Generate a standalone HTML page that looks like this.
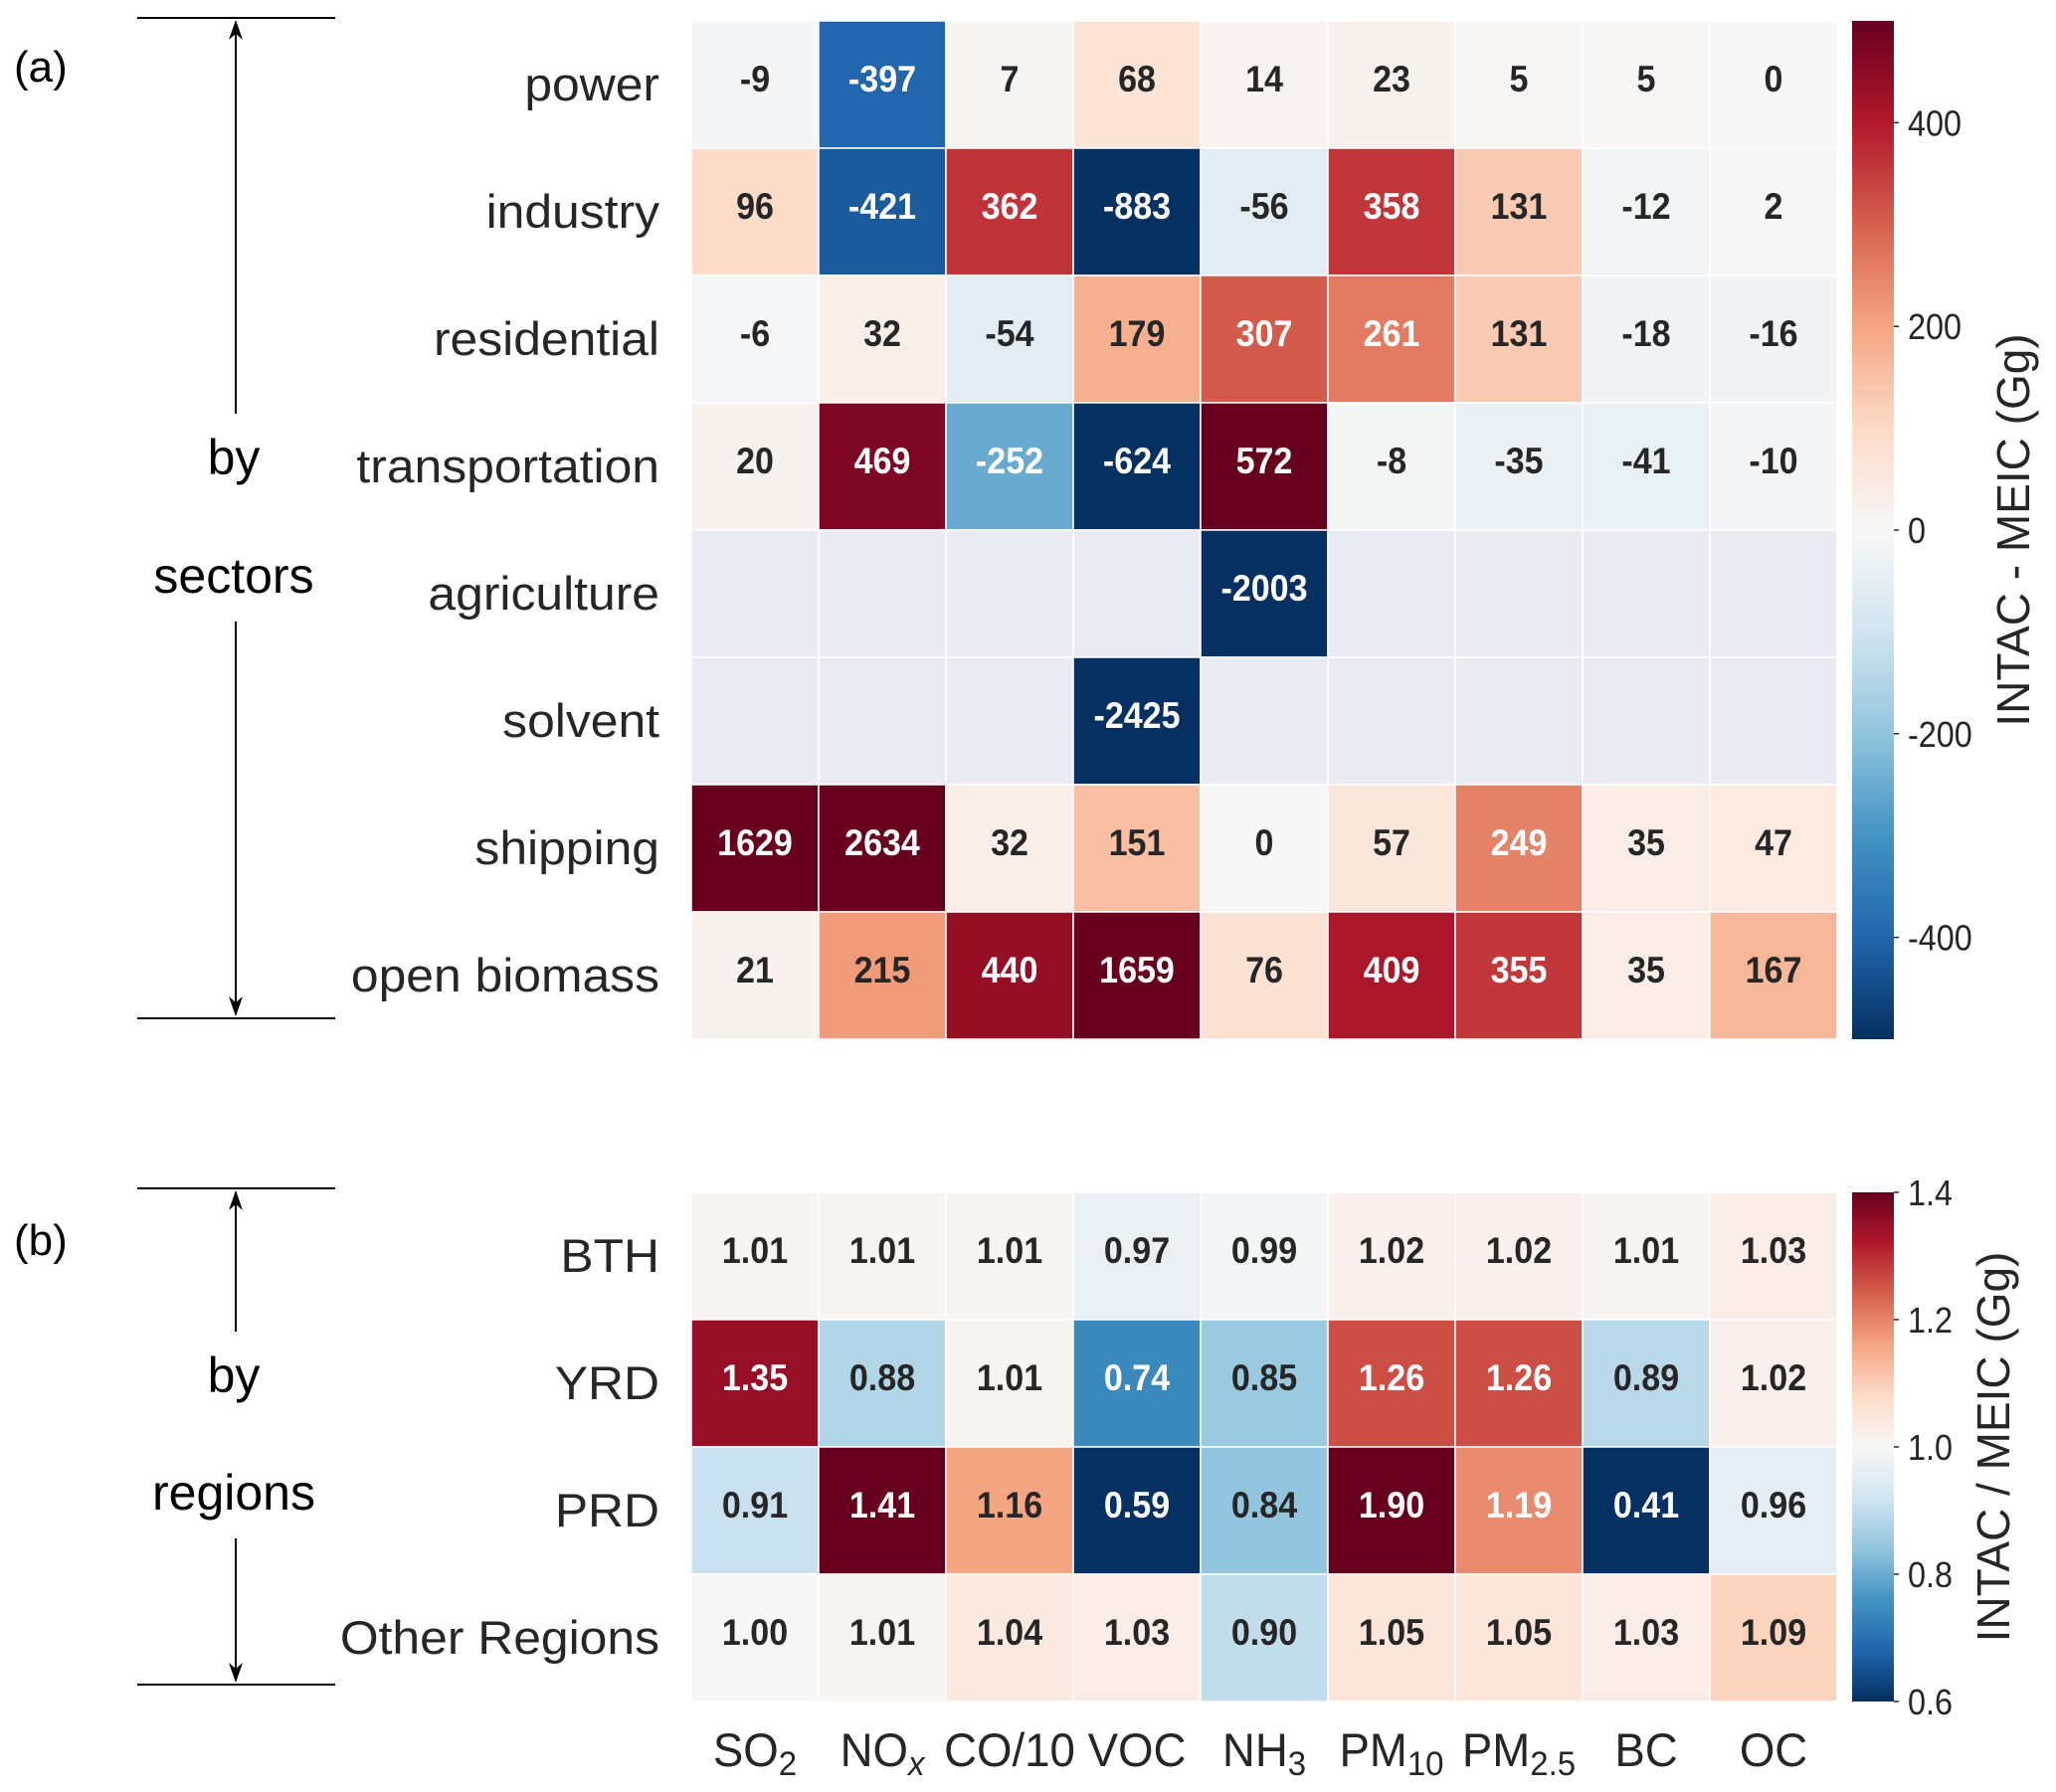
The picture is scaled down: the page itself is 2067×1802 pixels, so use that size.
<!DOCTYPE html>
<html><head><meta charset="utf-8"><style>
html,body{margin:0;padding:0;background:#fff}
svg{display:block;font-family:"Liberation Sans",sans-serif}
</style></head><body>
<svg id="chart" width="2067" height="1802" viewBox="0 0 2067 1802" xmlns="http://www.w3.org/2000/svg">
<defs>
<linearGradient id="rdbu" x1="0" y1="1" x2="0" y2="0"></linearGradient>
</defs>
<g id="root"></g>
</svg>
<script>
const species = ["SO2","NOx","CO/10","VOC","NH3","PM10","PM2.5","BC","OC"];
const sectors = ["power","industry","residential","transportation","agriculture","solvent","shipping","open biomass"];
const regions = ["BTH","YRD","PRD","Other Regions"];
const powerVals = [-9,-397,7,68,14,23,5,5,0];
const industryVals = [96,-421,362,-883,-56,358,131,-12,2];
const residentialVals = [-6,32,-54,179,307,261,131,-18,-16];
const transportVals = [20,469,-252,-624,572,-8,-35,-41,-10];
const agricultureVals = [null,null,null,null,-2003,null,null,null,null];
const solventVals = [null,null,null,-2425,null,null,null,null,null];
const shippingVals = [1629,2634,32,151,0,57,249,35,47];
const biomassVals = [21,215,440,1659,76,409,355,35,167];
const bthVals = [1.01,1.01,1.01,0.97,0.99,1.02,1.02,1.01,1.03];
const yrdVals = [1.35,0.88,1.01,0.74,0.85,1.26,1.26,0.89,1.02];
const prdVals = [0.91,1.41,1.16,0.59,0.84,1.90,1.19,0.41,0.96];
const otherVals = [1.00,1.01,1.04,1.03,0.90,1.05,1.05,1.03,1.09];
const ticksA = [-400,-200,0,200,400];
const ticksB = ["0.6","0.8","1.0","1.2","1.4"];

const NS="http://www.w3.org/2000/svg";
const root=document.getElementById('root');
const stops=["#053061","#2166ac","#4393c3","#92c5de","#d1e5f0","#f7f7f7","#fddbc7","#f4a582","#d6604d","#b2182b","#67001f"];
function hex(h){return [1,3,5].map(i=>parseInt(h.substr(i,2),16));}
function cmap(t){t=Math.max(0,Math.min(1,t));const p=t*10;const i=Math.min(9,Math.floor(p));const f=p-i;const a=hex(stops[i]),b=hex(stops[i+1]);return a.map((v,k)=>Math.round(v+(b[k]-v)*f));}
function lum(c){const l=c.map(v=>{v/=255;return v<=0.03928?v/12.92:Math.pow((v+0.055)/1.055,2.4)});return .2126*l[0]+.7152*l[1]+.0722*l[2];}
const grad=document.getElementById('rdbu');
stops.forEach((s,i)=>{const st=document.createElementNS(NS,'stop');st.setAttribute('offset',(i/10));st.setAttribute('stop-color',s);grad.appendChild(st);});
function el(tag,attrs,parent){const e=document.createElementNS(NS,tag);for(const k in attrs)e.setAttribute(k,attrs[k]);(parent||root).appendChild(e);return e;}
function txt(x,y,s,size,opts){opts=opts||{};const t=el('text',{transform:`translate(${x},${y}) scale(${opts.sx||0.8},1)`,'font-size':size,'text-anchor':opts.anchor||'middle',fill:opts.fill||'#262626','font-weight':opts.weight||'normal'});t.textContent=s;return t;}

const X0=695, CW=128, CH=128;
const xc=i=>X0+CW*i+CW/2;
const VS=37, VSX=0.92, VDY=7;
const RSX=1.06;
// panel A
const YA=21;
const aVals=[powerVals,industryVals,residentialVals,transportVals,agricultureVals,solventVals,shippingVals,biomassVals];
const scaleA=v=>(v+500)/1000;
aVals.forEach((row,r)=>{row.forEach((v,c)=>{
  let fill='#eaeaf2',col=null;
  if(v!==null){col=cmap(scaleA(v));fill=`rgb(${col})`;}
  const rc=el('rect',{x:X0+c*CW,y:YA+r*CH,width:CW,height:CH,fill:fill,stroke:'#ffffff','stroke-width':1.5});
  
  
  if(v!==null){const t=txt(xc(c),YA+r*CH+CH/2+VDY,String(v),VS,{weight:'bold',sx:VSX,fill:lum(col)<0.408?'#ffffff':'#262626'});
    
    }
});
const l=txt(663,YA+r*CH+CH/2+16,sectors[r],47,{anchor:'end',sx:RSX});


});
// panel B
const YB=1199;
const bVals=[bthVals,yrdVals,prdVals,otherVals];
const scaleB=v=>(v-0.6)/0.8;
bVals.forEach((row,r)=>{row.forEach((v,c)=>{
  const col=cmap(scaleB(v));
  const rc=el('rect',{x:X0+c*CW,y:YB+r*CH,width:CW,height:CH,fill:`rgb(${col})`,stroke:'#ffffff','stroke-width':1.5});
  
  
  const t=txt(xc(c),YB+r*CH+CH/2+VDY,v.toFixed(2),VS,{weight:'bold',sx:VSX,fill:lum(col)<0.408?'#ffffff':'#262626'});
  
  
});
const l=txt(663,YB+r*CH+CH/2+16,regions[r],47,{anchor:'end',sx:RSX});


});
// x labels with subscripts
const xl=[["SO",["2",""]],["NO",["x","i"]],["CO/10",null],["VOC",null],["NH",["3",""]],["PM",["10",""]],["PM",["2.5",""]],["BC",null],["OC",null]];
xl.forEach((d,i)=>{
  const t=el('text',{transform:`translate(${xc(i)},1776) scale(0.97,1)`,'font-size':47,'text-anchor':'middle',fill:'#262626'});
  
  
  const a=el('tspan',{},t);a.textContent=d[0];
  if(d[1]){const b=el('tspan',{'font-size':34,dy:9},t);if(d[1][1]==='i')b.setAttribute('font-style','italic');b.textContent=d[1][0];}
});
// colorbars
function colorbar(y0,h,ticks,pos,label,name,lx){
  const r=el('rect',{x:1862,y:y0,width:42,height:h,fill:'url(#rdbu)'});
  
  
  ticks.forEach((tk,i)=>{const y=y0+h-pos(i)*h;
    el('line',{x1:1904,x2:1909,y1:y,y2:y,stroke:'#262626','stroke-width':1.5});
    const t=txt(1918,y+13,String(tk),36,{anchor:'start',sx:0.9});
    
    });
  const t=el('text',{transform:`translate(${lx},${y0+h/2}) rotate(-90) scale(1,1)`,'font-size':46,'text-anchor':'middle',fill:'#262626'});
  t.setAttribute('xml:space','preserve');
  t.textContent=label;
  
  
}
colorbar(21,1024,ticksA,i=>scaleA(ticksA[i]),'INTAC - MEIC  (Gg)','colorbar-a',2040);
colorbar(1199,512,ticksB,i=>scaleB(parseFloat(ticksB[i])),'INTAC / MEIC  (Gg)','colorbar-b',2020);
// brackets
function bracket(y1,y2,t1,t2,ty1,ty2,tag,tagY,name){
  const g=el('g',{});
  
  
  el('line',{x1:138,x2:337,y1:y1,y2:y1,stroke:'#000','stroke-width':2},g);
  el('line',{x1:138,x2:337,y1:y2,y2:y2,stroke:'#000','stroke-width':2},g);
  el('line',{x1:237,x2:237,y1:y1+4,y2:ty1-45,stroke:'#000','stroke-width':2},g);
  el('line',{x1:237,x2:237,y1:ty2+45,y2:y2-4,stroke:'#000','stroke-width':2},g);
  el('path',{d:`M237 ${y1+2} l-7 20 l7 -6 l7 6 z`,fill:'#000'},g);
  el('path',{d:`M237 ${y2-2} l-7 -20 l7 6 l7 -6 z`,fill:'#000'},g);
  const a=el('text',{x:235,y:ty1+16,'font-size':50,'text-anchor':'middle',fill:'#000'},g);a.textContent=t1;
  const b=el('text',{x:235,y:ty2+16,'font-size':50,'text-anchor':'middle',fill:'#000'},g);b.textContent=t2;
  const c=el('text',{x:14,y:tagY+16,'font-size':44,fill:'#000'},g);c.textContent=tag;
}
bracket(18,1024,'by','sectors',461,580,'(a)',66,'sector-bracket');
bracket(1195,1694,'by','regions',1384,1502,'(b)',1246,'region-bracket');
</script>
</body></html>
